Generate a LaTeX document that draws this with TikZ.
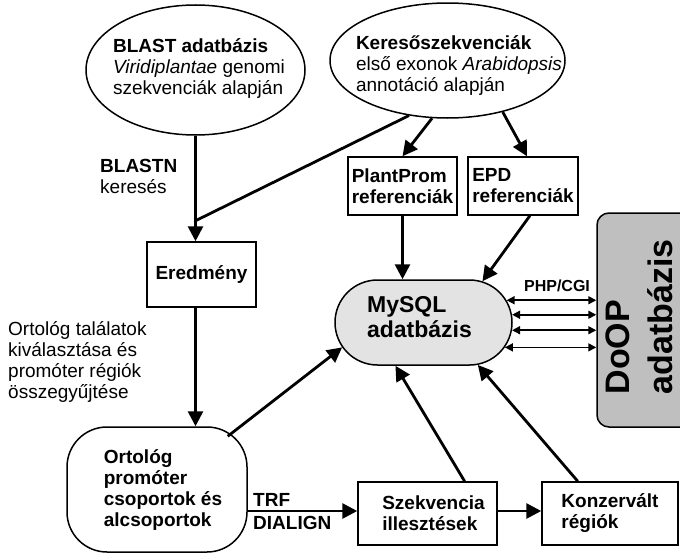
\documentclass[tikz,border=0pt]{standalone}
\usepackage{fontspec}
\setmainfont{Liberation Sans}
\usetikzlibrary{arrows.meta,shapes.geometric,shapes.misc,calc}
\begin{document}
\begin{tikzpicture}[x=1pt,y=-1pt,
  every node/.style={inner sep=0pt, font=\fontsize{19}{21}\selectfont},
  txt/.style={align=left},
  boxn/.style={draw, line width=1.5pt, rectangle, align=left, font=\fontsize{19}{21}\selectfont\bfseries},
  ell/.style={draw, line width=1.5pt, ellipse},
  arr/.style={line width=2.8pt, -{Triangle[length=15pt,width=15pt]}},
  ln/.style={line width=2.8pt},
  dbl/.style={line width=1.6pt, {Triangle[length=8pt,width=8pt]}-{Triangle[length=8pt,width=8pt]}},
]
\path[use as bounding box, clip] (0,0) rectangle (680,554);
\fill[white] (0,0) rectangle (680,554);

% ellipses
\node[ell, minimum width=219pt, minimum height=130pt] (e1) at (195.5,70) {};
\node[txt] (e1t) at (199,69) {\textbf{BLAST adatbázis}\\\textit{Viridiplantae} genomi\\szekvenciák alapján};
\node[ell, minimum width=235pt, minimum height=115pt] (e2) at (447.5,60.5) {};
\node[txt] (e2t) at (459,66) {\textbf{Keresőszekvenciák}\\első exonok \textit{Arabidopsis}\\annotáció alapján};

% boxes
\node[boxn, minimum width=109pt, minimum height=58pt] (pp) at (402.5,186) {PlantProm\\referenciák};
\node[boxn, minimum width=110pt, minimum height=58pt] (epd) at (523,186) {EPD\\referenciák};
\node[boxn, minimum width=109pt, minimum height=65pt] (ered) at (201.5,274.5) {Eredmény};
\node[boxn, rounded corners=40pt, minimum width=180pt, minimum height=125pt] (ort) at (157,489.5) {\hspace*{12pt}Ortológ\\\hspace*{12pt}promóter\\\hspace*{12pt}csoportok és\\\hspace*{12pt}alcsoportok};
\node[boxn, minimum width=139pt, minimum height=63pt] (szek) at (427.5,513.5) {\hspace*{12pt}Szekvencia\\\hspace*{12pt}illesztések};
\node[boxn, minimum width=136pt, minimum height=63pt] (konz) at (610,513.5) {Konzervált\\régiók};

% MySQL
\node[draw, line width=1.5pt, rounded rectangle, fill=black!11, minimum width=177pt, minimum height=85pt] (mysql) at (423.5,322.5) {};
\node[txt, font=\fontsize{23}{25}\selectfont\bfseries] (mysqlt) at (419.5,317) {MySQL\\adatbázis};

% DoOP
\node[draw, line width=1.5pt, rounded corners=12pt, fill=black!25, minimum width=103pt, minimum height=214pt] (doop) at (648.5,320) {};
\node[txt, rotate=90, font=\fontsize{34}{43}\selectfont\bfseries] (doopt) at (639,317) {DoOP\\adatbázis};
\node[font=\fontsize{16}{18}\selectfont\bfseries] (php) at (557,286) {PHP/CGI};

% double arrows
\draw[dbl] (mysql.15) -- (mysql.15 -| doop.west);
\draw[dbl] (mysql.5.5) -- (mysql.5.5 -| doop.west);
\draw[dbl] (mysql.355) -- (mysql.355 -| doop.west);
\draw[dbl] (mysql.343) -- (mysql.343 -| doop.west);

% labels
\node[txt, anchor=west] (lblast) at (100,176) {\textbf{BLASTN}\\keresés};
\node[txt, anchor=west] (lort) at (8,362) {Ortológ találatok\\kiválasztása és\\promóter régiók\\összegyűjtése};
\node[anchor=base west, font=\fontsize{19}{21}\selectfont\bfseries] (trf) at (253,506) {TRF};
\node[anchor=base west, font=\fontsize{19}{21}\selectfont\bfseries] (dia) at (253,529) {DIALIGN};

% connectors
\path (e1.south) ++(0,85) coordinate (j);
\coordinate (sw) at ($(szek.west)+(0,-2.5)$);
\draw[ln] (e1.south) -- (j);
\draw[ln] (e2.235) -- (j);
\draw[arr] (j) -- (j |- ered.north);
\draw[arr] (j |- ered.south) -- (j |- ort.north);
\draw[arr] (e2.255) -- (pp.north);
\draw[arr] (e2.317) -- ($(epd.north)+(4,0)$);
\draw[arr] (pp.south) -- (pp.south |- mysql.north);
\draw[arr] (epd.283.6) -- (mysql.35);
\draw[arr] ($(ort.north east)+(-20,10)$) -- (mysql.197);
\draw[arr] (szek.41.6) -- (mysql.237);
\draw[arr] (konz.135.5) -- (mysql.322);
\draw[arr] (ort.east |- sw) -- (sw);
\draw[arr] (szek.east |- sw) -- (konz.west |- sw);
\end{tikzpicture}
\end{document}
